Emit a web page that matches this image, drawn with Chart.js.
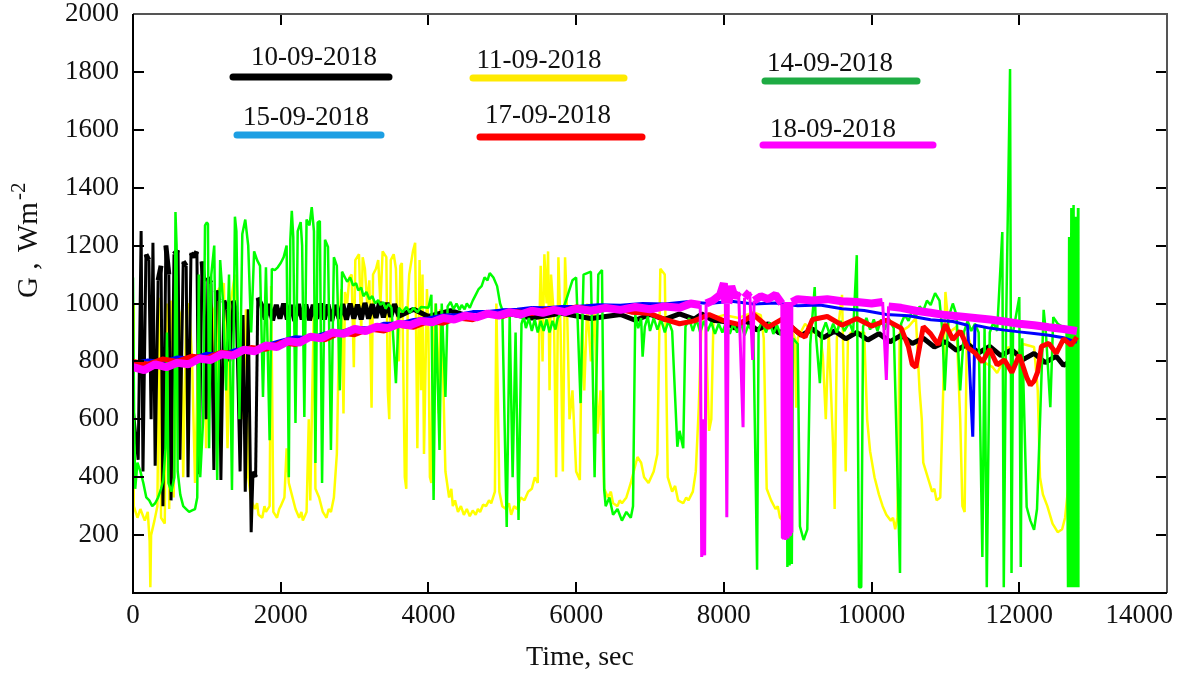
<!DOCTYPE html>
<html>
<head>
<meta charset="utf-8">
<script src="https://cdn.jsdelivr.net/npm/chart.js@4.4.1/dist/chart.umd.min.js"></script>
<style>
  html, body { margin: 0; padding: 0; background: #fff; }
</style>
</head>
<body>
<canvas id="irradiance" width="1184" height="673"></canvas>
<script>
// each series: [time in s, G in W/m2]
const day10 = [
  [0,640],[70,460],[110,1250],[135,420],[175,1170],[215,1150],[245,600],[270,1210],[300,440],[340,1080],
  [380,1130],[405,300],[445,1200],[485,1100],[515,320],[555,1170],[610,1185],[635,460],[680,1145],[720,1130],
  [745,400],[785,1175],[825,1160],[865,1180],[895,410],[935,1145],[960,1075],[990,600],[1015,1090],[1055,1070],
  [1095,425],[1125,1045],[1165,1010],[1190,390],[1230,1010],[1270,980],[1310,800],[1355,1010],[1400,960],[1450,420],
  [1490,960],[1520,350],[1560,980],[1600,210],[1625,420],[1660,400],[1690,1020],[1740,995],[1790,945],[1840,998],
  [1890,942],[1940,995],[1990,948],[2040,1000],[2090,945],[2140,995],[2190,940],[2240,998],[2290,945],[2340,996],
  [2390,942],[2440,995],[2490,948],[2540,1000],[2590,945],[2640,996],[2690,940],[2740,995],[2790,948],[2840,998],
  [2890,944],[2940,1000],[2990,948],[3040,996],[3090,945],[3140,1002],[3190,948],[3240,998],[3290,950],[3340,1005],
  [3390,952],[3440,1002],[3490,954],[3540,998],[3600,956],[3800,980],[4000,955],[4300,975],[4600,952],[5000,970],
  [5400,950],[5800,966],[6200,948],[6600,962],[6800,942],[7000,962],[7200,945],[7400,964],[7600,946],[7700,964],
  [7850,942],[8000,938],[8150,915],[8300,940],[8450,908],[8600,930],[8750,898],[8900,922],[9050,890],[9200,912],
  [9350,882],[9500,905],[9650,878],[9800,900],[9950,874],[10100,896],[10250,868],[10400,890],[10550,862],[10700,880],
  [10850,850],[11000,868],[11150,838],[11300,860],[11450,830],[11600,852],[11750,820],[11900,840],[12050,806],[12200,828],
  [12350,796],[12500,818],[12600,786],[12700,802]
];

const day11 = [
  [0,1000],[10,300],[60,260],[100,290],[160,250],[200,280],[225,180],[235,20],[245,200],[290,250],
  [330,300],[360,1020],[380,260],[430,240],[460,1000],[490,290],[520,1010],[550,330],[600,1000],[650,950],
  [680,400],[720,980],[760,1000],[800,800],[840,380],[880,790],[920,1000],[960,1060],[990,500],[1030,1020],
  [1080,980],[1120,600],[1160,1050],[1230,1070],[1280,500],[1320,1000],[1380,1100],[1420,900],[1480,600],[1530,980],
  [1560,400],[1600,320],[1650,290],[1680,310],[1700,270],[1750,260],[1780,300],[1800,280],[1850,300],[1870,1060],
  [1900,280],[1950,260],[1980,290],[2000,300],[2050,330],[2080,500],[2110,380],[2150,340],[2200,290],[2250,260],
  [2280,280],[2300,250],[2350,280],[2380,600],[2400,320],[2450,1000],[2470,360],[2520,330],[2570,280],[2620,260],
  [2650,290],[2680,280],[2720,330],[2760,480],[2790,900],[2820,1050],[2850,620],[2870,1040],[2900,1000],[2930,1090],
  [2960,1100],[2990,780],[3010,1150],[3060,1170],[3090,900],[3110,1160],[3140,1120],[3170,1000],[3200,1080],[3230,640],
  [3250,1100],[3290,1120],[3320,1150],[3350,1000],[3380,1180],[3430,1160],[3450,700],[3470,600],[3490,1150],[3530,1170],
  [3560,1120],[3580,900],[3600,800],[3620,1130],[3640,1140],[3680,400],[3700,360],[3720,1000],[3740,1100],[3790,1180],
  [3820,1210],[3850,500],[3880,1150],[3900,700],[3920,1100],[3940,480],[3980,1050],[4000,900],[4020,400],[4040,380],
  [4060,900],[4100,1000],[4140,620],[4160,980],[4180,950],[4230,420],[4280,330],[4310,360],[4330,300],[4360,320],
  [4400,280],[4440,300],[4480,270],[4520,290],[4560,265],[4600,285],[4640,270],[4670,290],[4700,280],[4740,305],
  [4780,300],[4820,320],[4850,310],[4900,350],[4920,1000],[4960,350],[5000,300],[5050,290],[5090,310],[5120,270],
  [5160,300],[5200,290],[5250,330],[5300,320],[5350,350],[5400,360],[5440,400],[5480,380],[5500,900],[5520,1130],
  [5545,800],[5570,1170],[5600,1000],[5620,1180],[5640,700],[5660,1100],[5700,950],[5730,400],[5760,1160],[5790,900],
  [5820,420],[5850,1160],[5880,950],[5910,600],[5950,700],[6000,420],[6050,390],[6080,950],[6110,700],[6150,1000],
  [6200,800],[6250,980],[6290,550],[6330,700],[6380,360],[6430,330],[6470,350],[6500,310],[6560,300],[6590,320],
  [6620,310],[6680,330],[6740,380],[6790,430],[6830,470],[6880,450],[6920,400],[6980,380],[7050,420],[7100,480],
  [7140,1120],[7200,1100],[7240,400],[7300,350],[7340,370],[7380,320],[7450,310],[7490,330],[7520,320],[7580,350],
  [7620,420],[7660,640],[7700,960],[7750,950],[7800,560],[7830,600],[7860,950],[8000,960],[8200,950],[8400,970],
  [8500,960],[8540,880],[8580,360],[8640,320],[8700,290],[8730,300],[8760,260],[8800,250],[8830,700],[8870,950],
  [8960,880],[8980,640],[9000,880],[9100,930],[9200,900],[9300,900],[9340,820],[9380,600],[9420,900],[9480,500],
  [9500,290],[9530,880],[9600,1030],[9650,420],[9680,880],[9720,900],[9900,900],[9940,600],[9980,490],[10040,400],
  [10100,340],[10150,300],[10200,270],[10260,250],[10290,260],[10320,220],[10350,260],[10380,900],[10500,920],[10600,950],
  [10650,700],[10680,600],[10700,450],[10760,400],[10820,350],[10850,360],[10880,320],[10930,330],[10970,700],[11000,1040],
  [11050,900],[11150,920],[11200,600],[11230,300],[11260,280],[11290,900],[11350,850],[11500,800],[11640,780],[11700,760],
  [11780,800],[11850,850],[11950,820],[12050,860],[12200,850],[12250,700],[12280,400],[12320,340],[12380,300],[12450,240],
  [12520,210],[12580,220],[12620,260],[12660,360],[12700,210]
];

const day14 = [
  [0,1090],[15,600],[30,360],[60,450],[100,420],[140,380],[180,330],[220,320],[260,300],[300,310],
  [340,330],[380,360],[410,390],[440,500],[460,900],[480,380],[520,350],[560,400],[575,1316],[590,1200],
  [605,420],[640,340],[680,300],[720,290],[760,280],[800,285],[840,290],[870,330],[890,1100],[910,400],
  [950,600],[975,1270],[1000,1280],[1015,1275],[1030,500],[1060,1100],[1100,1200],[1140,390],[1180,1150],[1220,1000],
  [1260,700],[1300,1100],[1340,356],[1380,1300],[1400,1250],[1440,600],[1480,1240],[1520,1290],[1560,1200],[1600,900],
  [1640,1180],[1680,1150],[1720,1130],[1760,677],[1800,1125],[1850,528],[1880,1120],[1920,1115],[1960,1125],[2000,1140],
  [2040,1160],[2080,1200],[2110,400],[2130,1220],[2150,1320],[2170,1230],[2200,587],[2230,1250],[2270,1281],[2290,1200],
  [2320,608],[2350,1290],[2390,1270],[2420,1333],[2450,1250],[2470,449],[2500,1280],[2530,1285],[2560,380],[2600,1220],
  [2640,1195],[2680,494],[2720,1160],[2760,1130],[2800,700],[2830,1110],[2870,1090],[2900,1075],[2940,1090],[2980,1062],
  [3020,1070],[3050,1045],[3090,1055],[3120,1025],[3160,1040],[3200,1015],[3240,1025],[3280,1000],[3320,1012],[3350,995],
  [3390,1005],[3420,982],[3460,998],[3500,985],[3560,725],[3600,985],[3650,970],[3700,988],[3750,968],[3800,985],
  [3850,970],[3900,988],[4000,985],[4040,1030],[4070,321],[4100,1000],[4150,494],[4180,1000],[4230,677],[4260,990],
  [4300,1005],[4340,980],[4380,1000],[4420,978],[4450,995],[4490,980],[4520,1000],[4560,985],[4600,1010],[4640,1030],
  [4680,1050],[4720,1060],[4760,1090],[4800,1080],[4830,1105],[4880,1090],[4930,1060],[4970,1000],[5000,978],[5060,228],
  [5100,960],[5140,400],[5180,900],[5220,252],[5260,930],[5290,955],[5320,915],[5360,950],[5400,905],[5440,945],
  [5480,900],[5520,940],[5560,905],[5600,945],[5640,900],[5680,940],[5720,910],[5750,950],[5780,960],[5850,1000],
  [5900,1040],[5950,1080],[6000,1090],[6060,656],[6100,1100],[6200,1110],[6250,400],[6300,1100],[6350,1116],[6380,356],
  [6400,300],[6450,330],[6500,270],[6560,290],[6620,250],[6680,280],[6740,260],[6770,300],[6800,960],[6840,915],
  [6880,950],[6900,816],[6930,920],[6970,955],[7000,905],[7050,950],[7100,910],[7150,945],[7200,900],[7250,940],
  [7300,905],[7370,505],[7400,560],[7450,500],[7480,920],[7530,950],[7580,905],[7630,945],[7680,900],[7730,940],
  [7780,905],[7830,935],[7880,895],[7930,930],[7980,900],[8030,935],[8080,895],[8130,930],[8180,900],[8230,935],
  [8280,890],[8330,925],[8400,900],[8450,80],[8470,910],[8520,940],[8570,900],[8620,935],[8670,895],[8720,925],
  [8770,890],[8800,910],[8850,900],[8860,90],[8875,950],[8890,95],[8905,930],[8920,100],[8935,880],[9000,860],
  [9030,230],[9080,183],[9130,220],[9170,860],[9230,1057],[9250,880],[9300,725],[9330,900],[9380,935],[9430,895],
  [9480,930],[9530,900],[9580,940],[9630,905],[9700,935],[9750,900],[9800,1167],[9830,20],[9860,20],[9885,920],
  [9930,950],[9980,910],[10030,945],[10080,905],[10130,945],[10180,910],[10230,950],[10300,915],[10385,69],[10400,930],
  [10450,960],[10500,940],[10550,975],[10600,955],[10650,990],[10700,975],[10750,1010],[10800,995],[10860,1036],[10920,1010],
  [10960,900],[10990,700],[11040,950],[11100,1000],[11150,960],[11200,700],[11250,900],[11300,940],[11350,905],[11400,930],
  [11450,900],[11500,124],[11530,920],[11560,20],[11600,900],[11650,935],[11700,905],[11770,1247],[11790,20],[11820,900],
  [11875,1810],[11895,69],[11915,900],[12000,1022],[12020,90],[12040,880],[12100,297],[12150,250],[12200,218],[12240,290],
  [12280,587],[12330,978],[12360,900],[12420,642],[12460,953],[12520,930],[12580,920],[12640,900],[12660,20],[12675,1230],
  [12690,20],[12705,1330],[12720,20],[12735,1340],[12750,20],[12765,1300],[12780,20],[12795,1330],[12800,20]
];

const day15 = [
  [0,795],[200,805],[400,800],[600,815],[800,812],[1000,828],[1200,825],[1400,842],[1600,840],[1800,858],
  [2000,872],[2200,885],[2400,882],[2600,898],[2800,902],[3000,918],[3200,915],[3400,932],[3600,932],[3800,945],
  [4000,950],[4200,960],[4400,962],[4600,972],[4800,972],[5000,978],[5200,980],[5400,986],[5600,985],[5800,990],
  [6000,990],[6300,996],[6600,994],[6900,1000],[7200,998],[7500,1006],[7800,1000],[8100,1008],[8400,998],[8700,1002],
  [9000,992],[9300,995],[9600,982],[9900,976],[10200,962],[10500,958],[10800,944],[11100,938],[11300,925],[11370,540],
  [11400,925],[11600,915],[11800,908],[12000,902],[12200,896],[12400,890],[12600,882],[12780,866]
];

const day17 = [
  [0,800],[200,790],[400,808],[600,800],[800,818],[1000,812],[1200,832],[1400,825],[1600,848],[1800,842],
  [2000,865],[2200,858],[2400,882],[2600,875],[2800,898],[3000,892],[3200,912],[3400,905],[3600,925],[3800,918],
  [4000,938],[4200,932],[4400,950],[4600,944],[4800,962],[5000,955],[5200,972],[5400,965],[5600,980],[5800,972],
  [6000,988],[6250,978],[6500,985],[6750,970],[7000,965],[7200,945],[7400,930],[7600,940],[7800,962],[8000,940],
  [8200,928],[8400,962],[8600,918],[8800,948],[9000,900],[9100,884],[9200,945],[9400,955],[9600,925],[9800,948],
  [10000,922],[10200,942],[10400,915],[10500,850],[10550,790],[10600,780],[10650,850],[10700,920],[10800,895],[10900,858],
  [11000,928],[11100,875],[11200,905],[11300,848],[11400,830],[11500,798],[11600,842],[11700,788],[11800,805],[11900,762],
  [12000,822],[12100,745],[12150,718],[12200,732],[12250,765],[12300,852],[12400,862],[12500,828],[12600,878],[12700,856],
  [12780,884]
];

const day18 = [
  [0,780],[150,770],[300,790],[450,780],[600,795],[750,790],[900,810],[1050,805],[1200,825],[1350,820],
  [1500,840],[1650,835],[1800,855],[1950,850],[2100,870],[2250,865],[2400,885],[2550,880],[2700,900],[2850,895],
  [3000,912],[3150,905],[3300,920],[3450,915],[3600,930],[3750,925],[3900,940],[4050,935],[4200,950],[4350,945],
  [4500,958],[4650,952],[4800,965],[4950,958],[5100,970],[5250,962],[5400,975],[5550,968],[5700,978],[5850,970],
  [6000,982],[6200,975],[6400,985],[6600,978],[6800,988],[7000,980],[7200,990],[7400,985],[7550,1000],[7680,995],
  [7700,124],[7720,600],[7740,130],[7760,1000],[7850,1010],[7950,1030],[8000,1070],[8020,1000],[8040,262],[8060,1000],
  [8100,1060],[8150,1020],[8200,1040],[8260,573],[8280,1020],[8350,1040],[8390,805],[8410,1010],[8500,1025],[8600,1015],
  [8700,1030],[8785,1000],[8792,190],[8800,1000],[8808,185],[8815,1000],[8822,190],[8830,1005],[8838,183],[8845,1000],
  [8852,190],[8860,1000],[8868,188],[8875,1005],[8882,195],[8890,1000],[8898,200],[8905,1000],[8912,210],[8920,1005],
  [9000,1015],[9200,1010],[9400,1015],[9600,1008],[9800,1005],[10000,1000],[10150,1005],[10200,736],[10230,990],[10400,985],
  [10600,975],[10800,968],[11000,960],[11200,955],[11400,950],[11600,945],[11800,938],[12000,930],[12200,925],[12400,918],
  [12600,912],[12780,905]
];

const dayLabels = ['10-09-2018', '11-09-2018', '14-09-2018', '15-09-2018', '17-09-2018', '18-09-2018'];
const series = [day10, day11, day14, day15, day17, day18];
const lineColors = ['#000000', '#ffff00', '#00ff00', '#0000ff', '#ff0000', '#ff00ff'];
const keyColors = ['#000000', '#ffea00', '#1eab43', '#1d9fe3', '#ff0000', '#ff00ff'];
const lineWidths = [5, 2.5, 2.5, 3, 5, 8];
const drawOrder = [4, 5, 3, 2, 1, 0]; // magenta on top, yellow at the back

const xTitle = 'Time, sec';
const yTitle = ['G ,', 'Wm', '-2'];

const serif = '"Liberation Serif", "Times New Roman", serif';
const ink = '#111';

// hand placed key, like the original worksheet
const keyLayout = [
  { tx: 314, ty: 65, x1: 233, x2: 389, ly: 77 },
  { tx: 539, ty: 68, x1: 473, x2: 624, ly: 78 },
  { tx: 830, ty: 71, x1: 765, x2: 917, ly: 81 },
  { tx: 306, ty: 125, x1: 237, x2: 381, ly: 135 },
  { tx: 548, ty: 123, x1: 480, x2: 642, ly: 137 },
  { tx: 833, ty: 137, x1: 763, x2: 933, ly: 145 }
];

const decorations = {
  id: 'decorations',
  afterDraw(chart) {
    const { ctx, chartArea: a, scales: { x, y } } = chart;
    ctx.save();

    // inward tick marks on all four sides
    ctx.strokeStyle = '#000';
    ctx.lineWidth = 2;
    ctx.beginPath();
    x.ticks.forEach(t => {
      if (t.value <= x.min || t.value >= x.max) return;
      const px = Math.round(x.getPixelForValue(t.value));
      ctx.moveTo(px, a.bottom); ctx.lineTo(px, a.bottom - 11);
      ctx.moveTo(px, a.top); ctx.lineTo(px, a.top + 11);
    });
    y.ticks.forEach(t => {
      if (t.value <= y.min || t.value >= y.max) return;
      const py = Math.round(y.getPixelForValue(t.value));
      ctx.moveTo(a.left, py); ctx.lineTo(a.left + 11, py);
      ctx.moveTo(a.right, py); ctx.lineTo(a.right - 11, py);
    });
    ctx.stroke();

    // frame
    ctx.strokeStyle = '#555';
    ctx.beginPath();
    ctx.moveTo(a.left, a.top); ctx.lineTo(a.right, a.top); ctx.lineTo(a.right, a.bottom);
    ctx.stroke();
    ctx.strokeStyle = '#000';
    ctx.beginPath();
    ctx.moveTo(a.left, a.top); ctx.lineTo(a.left, a.bottom); ctx.lineTo(a.right, a.bottom);
    ctx.stroke();

    // x tick labels, last one pulled back inside the canvas
    ctx.fillStyle = ink;
    ctx.font = `27px ${serif}`;
    ctx.textAlign = 'center';
    ctx.textBaseline = 'alphabetic';
    x.ticks.forEach(t => {
      const label = String(t.value);
      const w = ctx.measureText(label).width;
      const cx = Math.min(x.getPixelForValue(t.value), chart.width - 11 - w / 2);
      ctx.fillText(label, cx, a.bottom + 30);
    });

    // axis titles
    ctx.font = `28px ${serif}`;
    ctx.fillText(xTitle, 580, 665);

    ctx.save();
    ctx.translate(37, 0);
    ctx.rotate(-Math.PI / 2);
    ctx.textAlign = 'left';
    ctx.font = `29px ${serif}`;
    ctx.fillText(yTitle[0], -298, 0);
    ctx.fillText(yTitle[1], -252, 0);
    const wm = ctx.measureText(yTitle[1]).width;
    ctx.font = `21px ${serif}`;
    ctx.fillText(yTitle[2], -252 + wm + 2, -12);
    ctx.restore();

    // key
    ctx.lineCap = 'round';
    ctx.lineWidth = 7;
    ctx.font = `27px ${serif}`;
    ctx.textAlign = 'center';
    keyLayout.forEach((k, i) => {
      ctx.strokeStyle = keyColors[i];
      ctx.beginPath();
      ctx.moveTo(k.x1, k.ly); ctx.lineTo(k.x2, k.ly);
      ctx.stroke();
      ctx.fillStyle = ink;
      ctx.fillText(dayLabels[i], k.tx, k.ty);
    });

    ctx.restore();
  }
};

// wide traces keep their width along the band, sharp drops are drawn thin
const steepThin = (width) => (seg) =>
  Math.abs(seg.p1.parsed.y - seg.p0.parsed.y) > 150 ? Math.min(width, 3) : width;

new Chart(document.getElementById('irradiance'), {
  type: 'scatter',
  data: {
    datasets: series.map((s, i) => ({
      label: dayLabels[i],
      data: s.map(p => ({ x: p[0], y: p[1] })),
      showLine: true,
      borderColor: lineColors[i],
      backgroundColor: lineColors[i],
      borderWidth: lineWidths[i],
      borderJoinStyle: 'bevel',
      segment: { borderWidth: steepThin(lineWidths[i]) },
      pointRadius: 0,
      tension: 0,
      order: drawOrder[i]
    }))
  },
  options: {
    responsive: false,
    animation: false,
    devicePixelRatio: 1,
    layout: { padding: { left: 0, top: 14, right: 17, bottom: 0 } },
    plugins: {
      legend: { display: false },
      tooltip: { enabled: false }
    },
    scales: {
      x: {
        type: 'linear',
        min: 0,
        max: 14000,
        grid: { display: false, drawTicks: false },
        border: { display: false },
        ticks: { display: false, stepSize: 2000 },
        afterFit(scale) {
          scale.height = 80;
          scale.paddingLeft = 0;
          scale.paddingRight = 0;
        }
      },
      y: {
        type: 'linear',
        min: 0,
        max: 2000,
        grid: { display: false, drawTicks: false },
        border: { display: false },
        ticks: {
          stepSize: 200,
          padding: 14,
          color: ink,
          font: { family: serif, size: 27 },
          callback: v => (v === 0 ? '' : String(v))
        },
        afterFit(scale) {
          scale.width = 133;
          scale.paddingTop = 0;
          scale.paddingBottom = 0;
        }
      }
    }
  },
  plugins: [decorations]
});
</script>
</body>
</html>
